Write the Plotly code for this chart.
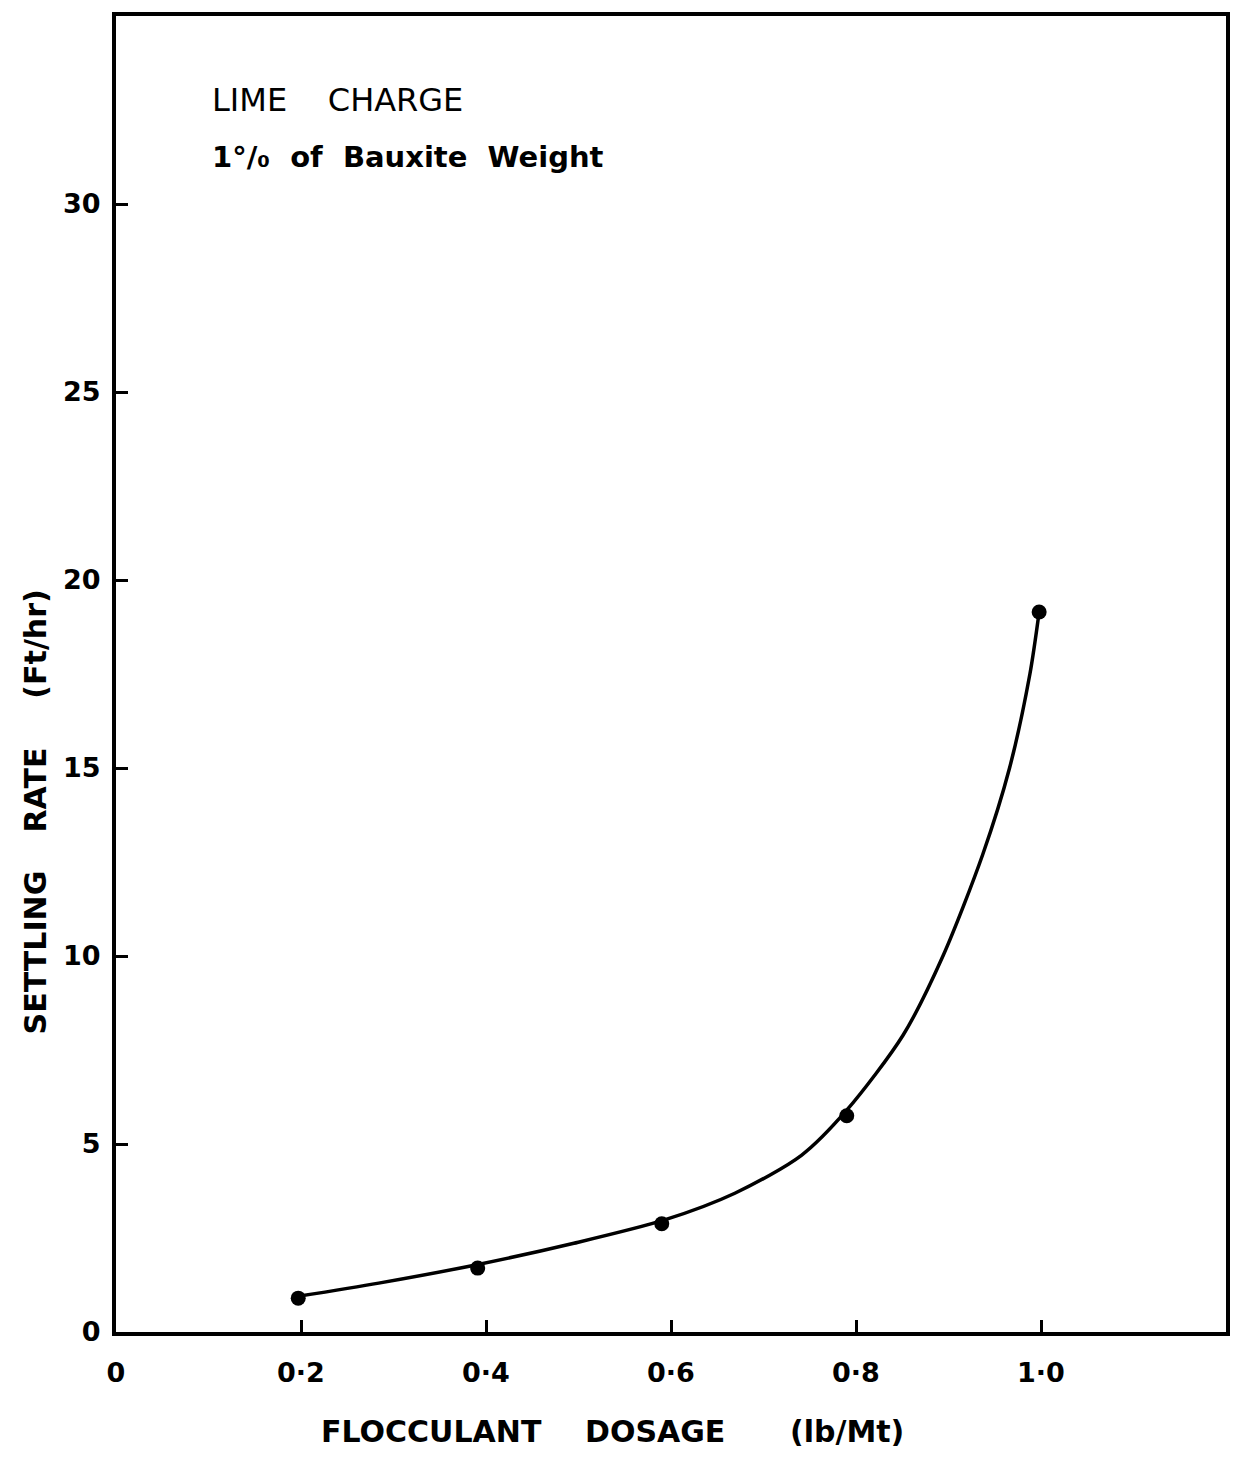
import plotly.graph_objects as go

# Measured points
dose = [0.197, 0.391, 0.590, 0.790, 0.998]
rate = [0.9, 1.7, 2.88, 5.75, 19.15]

# Hand-drawn fitted curve
curve_x = [0.197, 0.284, 0.39, 0.495, 0.593, 0.669, 0.741, 0.79, 0.851,
           0.894, 0.937, 0.966, 0.988, 0.998]
curve_y = [0.95, 1.30, 1.79, 2.36, 2.98, 3.69, 4.70, 5.9, 7.9,
           10.0, 12.7, 15.0, 17.5, 19.15]

x_ticks = [0, 0.2, 0.4, 0.6, 0.8, 1.0]
x_labels = ["0", "0·2", "0·4", "0·6", "0·8", "1·0"]
y_ticks = [0, 5, 10, 15, 20, 25, 30]
y_labels = ["0", "5", "10", "15", "20", "25", "30"]

FONT = "DejaVu Sans"

fig = go.Figure()
fig.add_trace(go.Scatter(x=curve_x, y=curve_y, mode="lines",
                         line=dict(color="black", width=3.5, shape="spline", smoothing=0.8),
                         showlegend=False, hoverinfo="skip"))
fig.add_trace(go.Scatter(x=dose, y=rate, mode="markers",
                         marker=dict(color="black", size=15),
                         showlegend=False))

fig.update_layout(
    width=1242, height=1465,
    margin=dict(l=116, r=14, t=15, b=133),
    paper_bgcolor="white", plot_bgcolor="white",
    font=dict(family=FONT, color="black", size=24),
    xaxis=dict(range=[0, 1.2], tickvals=x_ticks, ticktext=x_labels,
               showline=True, linecolor="black", linewidth=4, mirror=True,
               ticks="inside", ticklen=12, tickwidth=2.5, tickcolor="black",
               showgrid=False, zeroline=False, ticklabelstandoff=14,
               tickfont=dict(size=27, family=FONT, weight="bold")),
    yaxis=dict(range=[0, 35], tickvals=y_ticks, ticktext=y_labels,
               showline=True, linecolor="black", linewidth=4, mirror=True,
               ticks="inside", ticklen=12, tickwidth=2.5, tickcolor="black",
               showgrid=False, zeroline=False, ticklabelstandoff=6,
               tickfont=dict(size=27, family=FONT, weight="bold")),
)

# plot-area pixel helpers for text placement
L, R, T, B = 116, 1228, 15, 1332
def px(p):
    return (p - L) / (R - L)
def py(q):
    return (B - q) / (B - T)

title_font = dict(size=30, family=FONT, weight="bold")
# x-axis title pieces
for txt, cx in [("FLOCCULANT", 432), ("DOSAGE", 656), ("(lb/Mt)", 848)]:
    fig.add_annotation(x=px(cx), y=py(1432), xref="paper", yref="paper",
                       xanchor="center", yanchor="middle", text=txt, showarrow=False,
                       font=title_font)
# y-axis title pieces
for txt, cy in [("(Ft/hr)", 644), ("RATE", 790), ("SETTLING", 952)]:
    fig.add_annotation(x=px(35), y=py(cy), xref="paper", yref="paper",
                       xanchor="center", yanchor="middle", text=txt, showarrow=False,
                       textangle=-90, font=title_font)

fig.add_annotation(x=px(210), y=py(99), xref="paper", yref="paper",
                   xanchor="left", yanchor="middle",
                   text="LIME    CHARGE", showarrow=False,
                   font=dict(size=32, family=FONT))
fig.add_annotation(x=px(210), y=py(156), xref="paper", yref="paper",
                   xanchor="left", yanchor="middle",
                   text="1°/₀  of  Bauxite  Weight", showarrow=False,
                   font=dict(size=29, family=FONT, weight="bold"))

fig.write_html("out.html")
